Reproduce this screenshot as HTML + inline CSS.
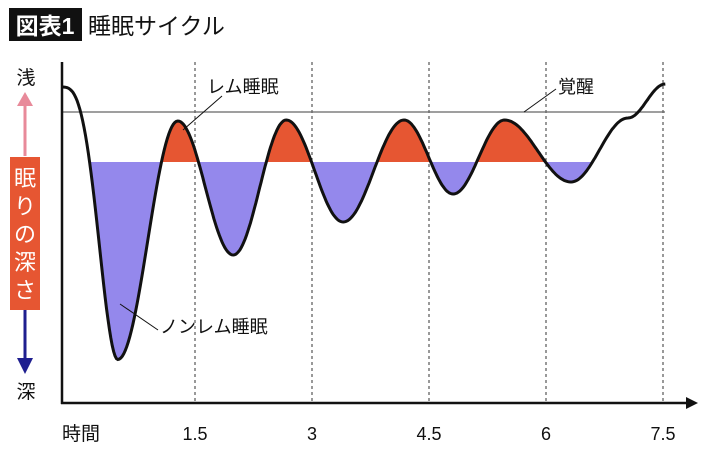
<!DOCTYPE html>
<html><head><meta charset="utf-8"><style>
html,body{margin:0;padding:0;background:#fff;}
svg{display:block;font-family:"Liberation Sans","Noto Sans CJK JP",sans-serif;}
</style></head><body>
<svg id="chart" width="710" height="450" viewBox="0 0 710 450">
<defs>
<clipPath id="clipDeep"><rect x="84" y="162" width="520" height="260"/></clipPath>
<clipPath id="clipRem"><rect x="100" y="0" width="462" height="162"/></clipPath>
</defs>
<rect x="9" y="8" width="73" height="33" fill="#111"/>
<text x="45" y="34" font-size="23" font-weight="bold" fill="#fff" text-anchor="middle">図表1</text>
<text x="88" y="34" font-size="23" fill="#111">睡眠サイクル</text>

<text x="26" y="84" font-size="19" text-anchor="middle" fill="#111">浅</text>
<line x1="25" y1="156" x2="25" y2="104" stroke="#e88a9a" stroke-width="3"/>
<polygon points="17,106 33,106 25,92" fill="#e88a9a"/>
<rect x="10" y="157" width="30" height="153" fill="#e65632"/>
<g font-size="22" fill="#fff" text-anchor="middle">
<text x="25" y="186">眠</text>
<text x="25" y="214">り</text>
<text x="25" y="242">の</text>
<text x="25" y="270">深</text>
<text x="25" y="298">さ</text>
</g>
<line x1="25" y1="310" x2="25" y2="362" stroke="#1f1f8f" stroke-width="3"/>
<polygon points="17,358 33,358 25,374" fill="#1f1f8f"/>
<text x="26" y="398" font-size="19" text-anchor="middle" fill="#111">深</text>

<g id="grid"></g>
<line x1="62" y1="112" x2="665" y2="112" stroke="#666" stroke-width="1.3"/>
<path id="deepFill" clip-path="url(#clipDeep)" fill="#9488ec"/>
<path id="remFill" clip-path="url(#clipRem)" fill="#e65632"/>
<path id="curve" fill="none" stroke="#111" stroke-width="3"/>

<line x1="62" y1="62" x2="62" y2="404" stroke="#111" stroke-width="2.5"/>
<line x1="61" y1="403" x2="688" y2="403" stroke="#111" stroke-width="2.5"/>
<polygon points="686,397 698,403 686,409" fill="#111"/>
<text x="62" y="440" font-size="19" fill="#111">時間</text>
<g id="ticks"></g>

<line x1="183" y1="130" x2="222" y2="96" stroke="#111" stroke-width="1"/>
<text x="207" y="93" font-size="18" fill="#111">レム睡眠</text>
<line x1="524" y1="112" x2="556" y2="89" stroke="#111" stroke-width="1"/>
<text x="558" y="93" font-size="18" fill="#111">覚醒</text>
<line x1="120" y1="304" x2="158" y2="330" stroke="#111" stroke-width="1"/>
<text x="160" y="333" font-size="18" fill="#111">ノンレム睡眠</text>
</svg>
<script>
// sleep curve key points: time (hours) and depth (0 = awake, 1 = REM threshold)
const times = [-0.21, 0.51, 1.28, 1.99, 2.67, 3.40, 4.18, 4.81, 5.47, 6.32, 7.05, 7.53];
const depths = [-0.5, 4.95, 0.18, 2.86, 0.16, 2.2, 0.16, 1.64, 0.16, 1.4, 0.12, -0.56];
const tickValues = [1.5, 3, 4.5, 6, 7.5];
const tickLabels = ["1.5", "3", "4.5", "6", "7.5"];
const remThreshold = 1;

const xs = t => 78 + 78 * t;
const ys = d => 112 + 50 * d;
const ns = "http://www.w3.org/2000/svg";

let pts = [];
for (let i = 0; i < times.length - 1; i++) {
  const n = 40;
  for (let k = 0; k <= n; k++) {
    if (i > 0 && k === 0) continue;
    const u = k / n;
    const ue = i === 0 ? Math.pow(u, 1.5) : u;
    const t = times[i] + (times[i + 1] - times[i]) * u;
    const w = (1 - Math.cos(Math.PI * ue)) / 2;
    const d = depths[i] + (depths[i + 1] - depths[i]) * w;
    pts.push([xs(t), ys(d)]);
  }
}
const line = "M" + pts.map(p => p[0].toFixed(1) + "," + p[1].toFixed(1)).join("L");
document.getElementById("curve").setAttribute("d", line);
const base = ys(remThreshold);
const area = line + "L" + pts[pts.length - 1][0].toFixed(1) + "," + base + "L" + pts[0][0].toFixed(1) + "," + base + "Z";
document.getElementById("deepFill").setAttribute("d", area);
document.getElementById("remFill").setAttribute("d", area);

const grid = document.getElementById("grid");
const ticks = document.getElementById("ticks");
tickValues.forEach((v, i) => {
  const l = document.createElementNS(ns, "line");
  l.setAttribute("x1", xs(v)); l.setAttribute("x2", xs(v));
  l.setAttribute("y1", 62); l.setAttribute("y2", 403);
  l.setAttribute("stroke", "#333"); l.setAttribute("stroke-width", "1");
  l.setAttribute("stroke-dasharray", "3,3");
  
  
  grid.appendChild(l);
  const tx = document.createElementNS(ns, "text");
  tx.setAttribute("x", xs(v)); tx.setAttribute("y", 440);
  tx.setAttribute("font-size", "18"); tx.setAttribute("text-anchor", "middle");
  tx.setAttribute("fill", "#111");
  tx.textContent = tickLabels[i];
  
  
  ticks.appendChild(tx);
});
</script>
</body></html>
